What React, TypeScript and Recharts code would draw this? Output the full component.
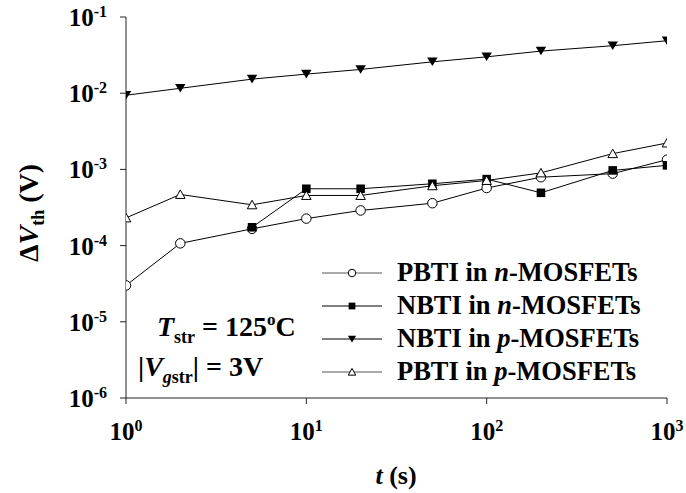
import React from 'react';
import { LineChart, Line, XAxis, YAxis, Legend } from 'recharts';

// stress time (s)
const times = [1, 2, 5, 10, 20, 50, 100, 200, 500, 1000];

// ΔVth (V)
const pbtiN = [3.0e-5, 1.07e-4, 1.66e-4, 2.26e-4, 2.89e-4, 3.6e-4, 5.7e-4, 7.9e-4, 8.8e-4, 1.34e-3];
const nbtiN = [null, null, 1.74e-4, 5.57e-4, 5.57e-4, 6.48e-4, 7.46e-4, 4.93e-4, 9.7e-4, 1.13e-3];
const nbtiP = [9.4e-3, 1.16e-2, 1.53e-2, 1.78e-2, 2.05e-2, 2.58e-2, 3.0e-2, 3.57e-2, 4.2e-2, 4.88e-2];
const pbtiP = [2.31e-4, 4.69e-4, 3.43e-4, 4.55e-4, 4.55e-4, 6.1e-4, 7.16e-4, 9.0e-4, 1.61e-3, 2.22e-3];

const xTicks = [1, 10, 100, 1000];
const yTicks = [1e-6, 1e-5, 1e-4, 1e-3, 1e-2, 1e-1];

const data = times.map((t, i) => ({ t, pbtiN: pbtiN[i], nbtiN: nbtiN[i], nbtiP: nbtiP[i], pbtiP: pbtiP[i] }));

const FONT = "'Liberation Serif', 'Times New Roman', serif";

type Marker = 'circle' | 'square' | 'down' | 'up';

const series: { key: string; marker: Marker; type: string; dev: string }[] = [
  { key: 'pbtiN', marker: 'circle', type: 'PBTI', dev: 'n' },
  { key: 'nbtiN', marker: 'square', type: 'NBTI', dev: 'n' },
  { key: 'nbtiP', marker: 'down', type: 'NBTI', dev: 'p' },
  { key: 'pbtiP', marker: 'up', type: 'PBTI', dev: 'p' },
];

const drawMarker = (m: Marker, cx: number, cy: number, s: number, key?: string) => {
  switch (m) {
    case 'circle':
      return <circle key={key} cx={cx} cy={cy} r={s * 0.5} fill="#fff" stroke="#000" strokeWidth={1} />;
    case 'square':
      return <rect key={key} x={cx - s * 0.45} y={cy - s * 0.45} width={s * 0.9} height={s * 0.9} fill="#000" />;
    case 'down':
      return (
        <polygon key={key} fill="#000"
          points={`${cx - s * 0.55},${cy - s * 0.45} ${cx + s * 0.55},${cy - s * 0.45} ${cx},${cy + s * 0.45}`} />
      );
    default:
      return (
        <polygon key={key} fill="#fff" stroke="#000" strokeWidth={1}
          points={`${cx - s * 0.5},${cy + s * 0.42} ${cx + s * 0.5},${cy + s * 0.42} ${cx},${cy - s * 0.48}`} />
      );
  }
};

const dotFor = (m: Marker) => (props: any) => {
  const { cx, cy, index, value } = props;
  if (value == null || cx == null || cy == null) return <g key={`e${index}`} />;
  return drawMarker(m, cx, cy, 9.5, `${m}${index}`);
};

const YTick = (props: any) => {
  const { x, y, payload } = props;
  const e = Math.round(Math.log10(payload.value));
  return (
    <text x={x} y={y} textAnchor="end" fontFamily={FONT} fontWeight="bold" fontSize={25} fill="#000">
      <tspan dy={9}>10</tspan>
      <tspan dy={-9} fontSize={16}>{e}</tspan>
    </text>
  );
};

const XTick = (props: any) => {
  const { x, y, payload } = props;
  const e = Math.round(Math.log10(payload.value));
  return (
    <text x={x} y={y} textAnchor="middle" fontFamily={FONT} fontWeight="bold" fontSize={25} fill="#000">
      <tspan dy={34}>10</tspan>
      <tspan dy={-9} fontSize={16}>{e}</tspan>
    </text>
  );
};

const renderLegend = () => (
  <div style={{ fontFamily: FONT, fontWeight: 'bold', fontSize: 26.5, color: '#000' }}>
    {series.map((s) => (
      <div key={s.key} style={{ display: 'flex', alignItems: 'center', height: 33 }}>
        <svg width={60} height={20} style={{ display: 'block' }}>
          <line x1={0} y1={10} x2={60} y2={10} stroke={s.marker === 'circle' || s.marker === 'up' ? '#555' : '#000'} strokeWidth={1} />
          {drawMarker(s.marker, 30, 10, 7.5)}
        </svg>
        <span style={{ marginLeft: 15, whiteSpace: 'nowrap' }}>
          {s.type} in <i>{s.dev}</i>-MOSFETs
        </span>
      </div>
    ))}
  </div>
);

export default function App() {
  return (
    <div style={{ position: 'absolute', left: 0, top: 0, width: 686, height: 493, background: '#fff' }}>
      <LineChart width={686} height={493} data={data} margin={{ top: 17, right: 19, bottom: 35, left: 66 }}>
        <XAxis
          dataKey="t"
          type="number"
          scale="log"
          domain={[1, 1000]}
          ticks={xTicks}
          allowDataOverflow
          height={60}
          stroke="#222"
          tickSize={6}
          tick={<XTick />}
        />
        <XAxis xAxisId="top" orientation="top" type="number" scale="log" domain={[1, 1000]} dataKey="t"
          height={0} tick={false} tickLine={false} stroke="#222" />
        <YAxis
          type="number"
          scale="log"
          domain={[1e-6, 1e-1]}
          ticks={yTicks}
          allowDataOverflow
          width={60}
          stroke="#222"
          tickSize={6}
          tickMargin={13}
          tick={<YTick />}
        />
        <YAxis yAxisId="right" orientation="right" type="number" scale="log" domain={[1e-6, 1e-1]}
          width={0} tick={false} tickLine={false} stroke="#222" />
        {series.map((s) => (
          <Line
            key={s.key}
            dataKey={s.key}
            stroke="#000"
            strokeWidth={1}
            dot={dotFor(s.marker)}
            activeDot={false}
            isAnimationActive={false}
          />
        ))}
        <Legend layout="vertical" align="center" verticalAlign="middle" content={renderLegend}
          wrapperStyle={{ left: 322, top: 256, width: 360 }} />
        <text transform="translate(38,262) rotate(-90)" fontFamily={FONT} fontWeight="bold" fontSize={28} fill="#000">
          <tspan>Δ</tspan>
          <tspan fontStyle="italic">V</tspan>
          <tspan fontSize={18} dy={6}>th</tspan>
          <tspan dy={-6}> (V)</tspan>
        </text>
        <text x={396} y={484} textAnchor="middle" fontFamily={FONT} fontWeight="bold" fontSize={26} fill="#000">
          <tspan fontStyle="italic">t</tspan>
          <tspan> (s)</tspan>
        </text>
        <text x={157} y={336} fontFamily={FONT} fontWeight="bold" fontSize={28} fill="#000">
          <tspan fontStyle="italic">T</tspan>
          <tspan fontSize={18} dy={7}>str</tspan>
          <tspan dy={-7}> = 125</tspan>
          <tspan fontSize={17} dy={-11}>o</tspan>
          <tspan dy={11}>C</tspan>
        </text>
        <text x={138} y={376} fontFamily={FONT} fontWeight="bold" fontSize={28} fill="#000">
          <tspan>|</tspan>
          <tspan fontStyle="italic">V</tspan>
          <tspan fontSize={18} dy={7} fontStyle="italic">g</tspan>
          <tspan fontSize={18}>str</tspan>
          <tspan dy={-7}>| = 3V</tspan>
        </text>
      </LineChart>
    </div>
  );
}
